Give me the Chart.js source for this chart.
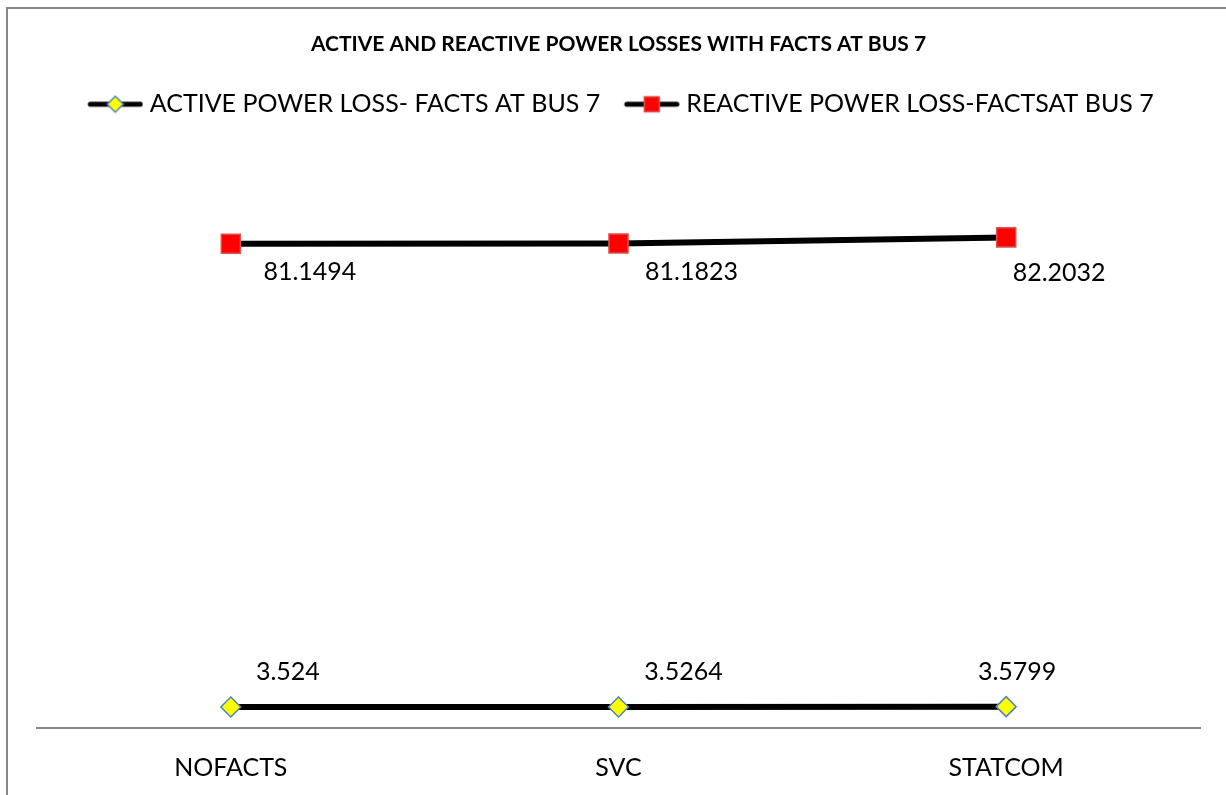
<!DOCTYPE html>
<html>
<head>
<meta charset="utf-8">
<script src="https://cdn.jsdelivr.net/npm/chart.js@4.4.1/dist/chart.umd.min.js"></script>
<style>
  html, body { margin: 0; padding: 0; background: #fff; overflow: hidden; }
</style>
</head>
<body>
<canvas id="chartPerdidas" width="1226" height="795"></canvas>
<script>
const categorias = ['NOFACTS', 'SVC', 'STATCOM'];
const perdidaActiva = [3.524, 3.5264, 3.5799];
const perdidaReactiva = [81.1494, 81.1823, 82.2032];

// legend icon: thick line with the marker in the middle
function iconoLeyenda(tipo) {
  const c = document.createElement('canvas');
  c.width = 66; c.height = 20;
  const g = c.getContext('2d');
  g.strokeStyle = '#000'; g.lineWidth = 5; g.lineCap = 'round';
  g.beginPath(); g.moveTo(13, 10); g.lineTo(63, 10); g.stroke();
  g.lineWidth = 1.5;
  if (tipo === 'diamond') {
    g.fillStyle = '#ffff00'; g.strokeStyle = '#4f81bd';
    g.beginPath(); g.moveTo(38, 2); g.lineTo(46, 10); g.lineTo(38, 18); g.lineTo(30, 10); g.closePath();
    g.fill(); g.stroke();
  } else {
    g.fillStyle = '#ff0000'; g.strokeStyle = '#d9534f';
    g.fillRect(30.5, 2.5, 15, 15); g.strokeRect(30.5, 2.5, 15, 15);
  }
  return c;
}

const marco = {
  id: 'marco',
  afterInit(chart) {
    // a little more room under the legend
    const fitOrig = chart.legend.fit;
    chart.legend.fit = function () {
      fitOrig.call(this);
      this.height += 4.5;
    };
  },
  beforeDraw(chart) {
    const c = chart.ctx;
    c.save();
    c.strokeStyle = '#868686'; c.lineWidth = 2;
    c.beginPath(); c.moveTo(7, 800); c.lineTo(7, 8); c.lineTo(1230, 8); c.stroke();
    c.restore();
  }
};

const etiquetas = {
  id: 'etiquetas',
  afterDatasetsDraw(chart, args, opts) {
    const c = chart.ctx;
    c.save();
    c.font = '25px Lato';
    c.fillStyle = '#000';
    c.textAlign = 'center';
    c.textBaseline = 'middle';
    chart.data.datasets.forEach((ds, i) => {
      const meta = chart.getDatasetMeta(i);
      const off = opts.desplazamientos[i];
      meta.data.forEach((p, j) => {
        c.fillText(String(ds.data[j]), p.x + off[j][0], p.y + off[j][1]);
      });
    });
    c.restore();
  }
};

Chart.defaults.font.family = 'Lato';
Chart.defaults.color = '#000';

const ctx = document.getElementById('chartPerdidas');
new Chart(ctx, {
  type: 'line',
  data: {
    labels: categorias,
    datasets: [{
        label: 'ACTIVE POWER LOSS- FACTS AT BUS 7',
        data: perdidaActiva,
        borderColor: '#000',
        borderWidth: 6,
        pointStyle: 'rectRot',
        pointRadius: 10,
        pointHoverRadius: 10,
        pointBackgroundColor: '#ffff00',
        pointBorderColor: '#4f81bd',
        pointBorderWidth: 1.5
      }, {
        label: 'REACTIVE POWER LOSS-FACTSAT BUS 7',
        data: perdidaReactiva,
        borderColor: '#000',
        borderWidth: 6,
        pointStyle: 'rect',
        pointRadius: 13.5,
        pointHoverRadius: 13.5,
        pointBackgroundColor: '#ff0000',
        pointBorderColor: '#d9534f',
        pointBorderWidth: 1.5
      }]
  },
  options: {
    responsive: false,
    animation: false,
    layout: { padding: { left: 37, right: 26, top: 0, bottom: -13 } },
    plugins: {
      title: {
        display: true,
        text: 'ACTIVE AND REACTIVE POWER LOSSES WITH FACTS AT BUS 7',
        font: { size: 21, weight: 'bold' },
        color: '#000',
        padding: { top: 32, bottom: 15 }
      },
      legend: {
        labels: {
          usePointStyle: true,
          pointStyleWidth: 54,
          padding: 19.5,
          font: { size: 25 },
          color: '#000',
          generateLabels(chart) {
            return chart.data.datasets.map((ds, i) => ({
              text: ds.label,
              datasetIndex: i,
              pointStyle: iconoLeyenda(i === 0 ? 'diamond' : 'square'),
              fillStyle: '#000',
              strokeStyle: '#000',
              lineWidth: 0,
              fontColor: '#000'
            }));
          }
        }
      },
      tooltip: { enabled: false },
      etiquetas: {
        desplazamientos: [
          [[57, -35], [65, -35], [11, -35]],
          [[79, 28], [73, 28], [53, 36]]
        ]
      }
    },
    scales: {
      x: {
        offset: true,
        grid: { display: false, drawTicks: false },
        border: { display: true, color: '#868686', width: 2 },
        ticks: { padding: 25, font: { size: 25 }, color: '#000' }
      },
      y: {
        display: false,
        min: 0,
        max: 100
      }
    }
  },
  plugins: [marco, etiquetas]
});
</script>
</body>
</html>
